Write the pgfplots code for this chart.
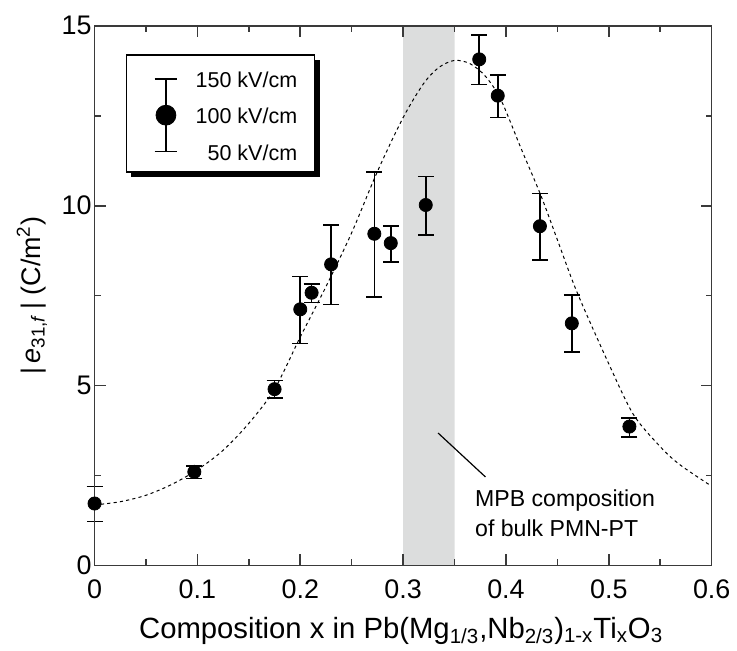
\documentclass[border=0pt]{standalone}
\usepackage{fontspec}
\setmainfont{Liberation Sans}
\usepackage{pgfplots}
\pgfplotsset{compat=1.18}
\definecolor{band}{HTML}{DCDDDD}
\definecolor{axc}{HTML}{3A3A3A}

\begin{document}
\begin{tikzpicture}
\begin{axis}[
  width=310pt, height=271pt, scale only axis,
  xmin=0, xmax=0.6, ymin=0, ymax=15,
  xtick={0,0.1,0.2,0.3,0.4,0.5,0.6},
  xticklabels={0,0.1,0.2,0.3,0.4,0.5,0.6},
  ytick={0,5,10,15},
  yticklabels={0,5,10,15},
  minor x tick num=1, minor y tick num=1,
  tick align=inside,
  major tick length=5.5pt, minor tick length=3pt,
  axis line style={axc, line width=0.8pt},
  every tick/.style={axc, line width=0.8pt},
  tick label style={font=\fontsize{13.5}{16}\selectfont},
  /pgf/number format/assume math mode=true,
  xticklabel style={yshift=-3.5pt},
  yticklabel style={xshift=2pt},
  axis on top,
  clip=false,
  xlabel={Composition x in Pb(Mg\textsubscript{1/3},Nb\textsubscript{2/3})\textsubscript{1-x}Ti\textsubscript{x}O\textsubscript{3}},
  ylabel={|\,\textit{e}\textsubscript{31,\textit{f}}\,| (C/m\textsuperscript{2})},
  xlabel style={font=\fontsize{14.7}{17}\selectfont, at={(axis description cs:0.4968,-0.1347)}, anchor=base},
  ylabel style={font=\fontsize{13.5}{16}\selectfont, at={(axis description cs:-0.1016,0.5)}, anchor=center},
  legend style={at={(rel axis cs:0.1173,0.8345)}, anchor=center,
    draw=none, fill=none, inner sep=0pt, column sep=0pt,
    nodes={inner sep=0pt}},
]
% MPB band
\addplot[fill=band, draw=none, forget plot] coordinates {(0.3,0) (0.35,0) (0.35,15) (0.3,15)} \closedcycle;
% dashed guide curve
\addplot[forget plot, black, line width=0.5pt, dash pattern=on 1.6pt off 1.6pt, smooth] coordinates {
(0,1.68) (0.025,1.77) (0.05,1.95) (0.075,2.25) (0.1,2.66) (0.125,3.2) (0.15,3.95)
(0.175,4.9) (0.2,6.35) (0.225,7.75) (0.25,9.25) (0.275,10.95) (0.3,12.45) (0.32,13.4)
(0.335,13.85) (0.35,14.04) (0.365,13.95) (0.38,13.6) (0.395,12.95) (0.415,11.57)
(0.434,10.28) (0.45,9.05) (0.469,7.6) (0.5,5.6) (0.524,4.19) (0.55,3.3) (0.569,2.8) (0.6,2.2)};
% legend frame with drop shadow
\fill[black] ([shift={(2.5pt,-2.5pt)}]rel axis cs:0.0516,0.7288) rectangle ([shift={(2.5pt,-2.5pt)}]rel axis cs:0.3565,0.9465);
\draw[black, fill=white, line width=0.8pt] (rel axis cs:0.0516,0.7288) rectangle (rel axis cs:0.3565,0.9465);
% data with asymmetric error bars (upper = 150 kV/cm, lower = 50 kV/cm)
\addplot[only marks, mark=*, mark size=3.3pt, black,
  error bars/.cd, y dir=both, y explicit,
  error bar style={line width=0.8pt, black},
  error mark options={rotate=90, mark size=4pt, line width=0.8pt, black},
  /pgfplots/.cd,
  legend image code/.code={
    \path[draw=none, fill=none] (-5.7pt,-32pt) rectangle (5.7pt,32pt);
    \draw[line width=0.8pt] (0pt,-18.25pt) -- (0pt,18.25pt);
    \draw[line width=0.8pt] (-5.7pt,-18.25pt) -- (5.7pt,-18.25pt);
    \draw[line width=0.8pt] (-5.7pt,18.25pt) -- (5.7pt,18.25pt);
    \fill (0pt,0pt) circle (5pt);
  }]
table[x=x, y=y, y error plus=ep, y error minus=em] {
x     y     ep    em
0.000 1.72  0.47  0.50
0.097 2.60  0.17  0.19
0.175 4.90  0.24  0.25
0.200 7.12  0.91  0.95
0.211 7.58  0.25  0.27
0.230 8.37  1.10  1.12
0.272 9.22  1.72  1.76
0.288 8.96  0.48  0.53
0.322 10.02 0.79  0.83
0.374 14.07 0.68  0.70
0.392 13.06 0.57  0.61
0.433 9.43  0.91  0.94
0.464 6.73  0.78  0.80
0.520 3.86  0.24  0.29
};
\addlegendentry{}
% legend text (field strengths for the error bar ends and the point)
\node[anchor=north east, align=right, inner sep=0pt, font=\fontsize{10.8}{18.35}\selectfont]
  at (rel axis cs:0.329,0.9157) {150 kV/cm\\100 kV/cm\\50 kV/cm};
% annotation
\draw[line width=0.6pt, black] (axis cs:0.334,3.68) -- (axis cs:0.380,2.46);
\node[anchor=north west, align=left, inner sep=0pt, font=\fontsize{11.6}{15}\selectfont]
  at (axis cs:0.3697,2.11) {MPB composition\\of bulk PMN-PT};
% picture bounds
\path (rel axis cs:0,0) ++(-47.5pt,-40pt) rectangle ++(368.5pt,324pt);
\end{axis}
\end{tikzpicture}
\end{document}
